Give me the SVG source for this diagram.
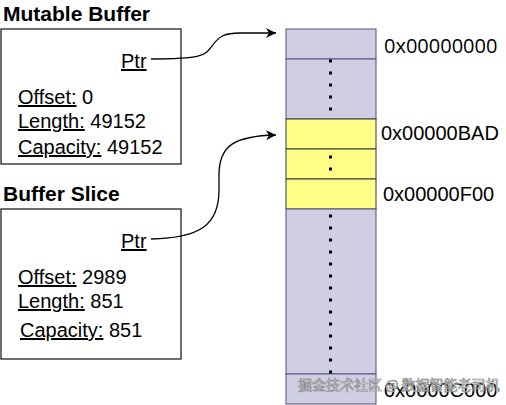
<svg xmlns="http://www.w3.org/2000/svg" width="506" height="405" viewBox="0 0 506 405">
<defs>
<marker id="arr" markerWidth="12" markerHeight="10" refX="10" refY="5" orient="auto" markerUnits="userSpaceOnUse">
<path d="M0,0 L10,5 L0,10 L3,5 Z" fill="#000"/>
</marker>
<style>
text{font-family:"Liberation Sans",Arial,sans-serif;font-size:20px;fill:#000}
.title{font-weight:bold;font-size:21px}
.u{text-decoration:underline}
.box{fill:#fff;stroke:#222;stroke-width:1.3}
.pur{fill:#d0cee2;stroke:#56517e;stroke-width:1}
.yel{fill:#ffff88;stroke:#36393d;stroke-width:1}
.dots{stroke:#000;stroke-width:3;stroke-dasharray:3 9;fill:none}
.conn{fill:none;stroke:#000;stroke-width:1.3;marker-end:url(#arr)}
.wm{font-family:"Noto Sans CJK SC",sans-serif;font-size:14px;fill:#fff;stroke:#888;stroke-width:0.7}
</style>
</defs>
<rect width="506" height="405" fill="#fff"/>

<g id="mutable-buffer">
<text class="title" x="3" y="21">Mutable Buffer</text>
<rect class="box" x="1" y="29" width="180" height="135"/>
<text x="121" y="68"><tspan class="u">Ptr</tspan></text>
<text x="18" y="104"><tspan class="u">Offset:</tspan> 0</text>
<text x="18" y="128"><tspan class="u">Length:</tspan> 49152</text>
<text x="18" y="154"><tspan class="u">Capacity:</tspan> 49152</text>
</g>

<g id="buffer-slice">
<text class="title" x="3" y="201">Buffer Slice</text>
<rect class="box" x="1" y="209" width="180" height="150"/>
<text x="121" y="248"><tspan class="u">Ptr</tspan></text>
<text x="18" y="284"><tspan class="u">Offset:</tspan> 2989</text>
<text x="18" y="308"><tspan class="u">Length:</tspan> 851</text>
<text x="20" y="337"><tspan class="u">Capacity:</tspan> 851</text>
</g>

<g id="memory">
<rect class="pur" x="286" y="29" width="90" height="30"/>
<rect class="pur" x="286" y="59" width="90" height="60"/>
<rect class="yel" x="286" y="119" width="90" height="30"/>
<rect class="yel" x="286" y="149" width="90" height="30"/>
<rect class="yel" x="286" y="179" width="90" height="30"/>
<rect class="pur" x="286" y="209" width="90" height="165"/>
<rect class="pur" x="286" y="374" width="90" height="30"/>
<path class="dots" d="M330.5,59.5 V119"/>
<path class="dots" d="M330.5,155.5 V179"/>
<path class="dots" d="M330.5,214.5 V380"/>
</g>

<g id="labels">
<text x="384" y="53" style="font-family:'Open Sans',sans-serif">0x00000000</text>
<text x="381" y="140">0x00000BAD</text>
<text x="383" y="201">0x00000F00</text>
<text x="384" y="397">0x0000C000</text>
</g>

<g id="connectors">
<path class="conn" d="M151,59 C205,59 205,55 212,46 C219,36 225,33 240,33 L276,33"/>
<path class="conn" d="M151,239 C200,238 219,225 219,190 L219,175 C219,145 235,136 276,135"/>
</g>

<text class="wm" x="298" y="390">掘金技术社区 @ 数据智能老司机</text>
</svg>
